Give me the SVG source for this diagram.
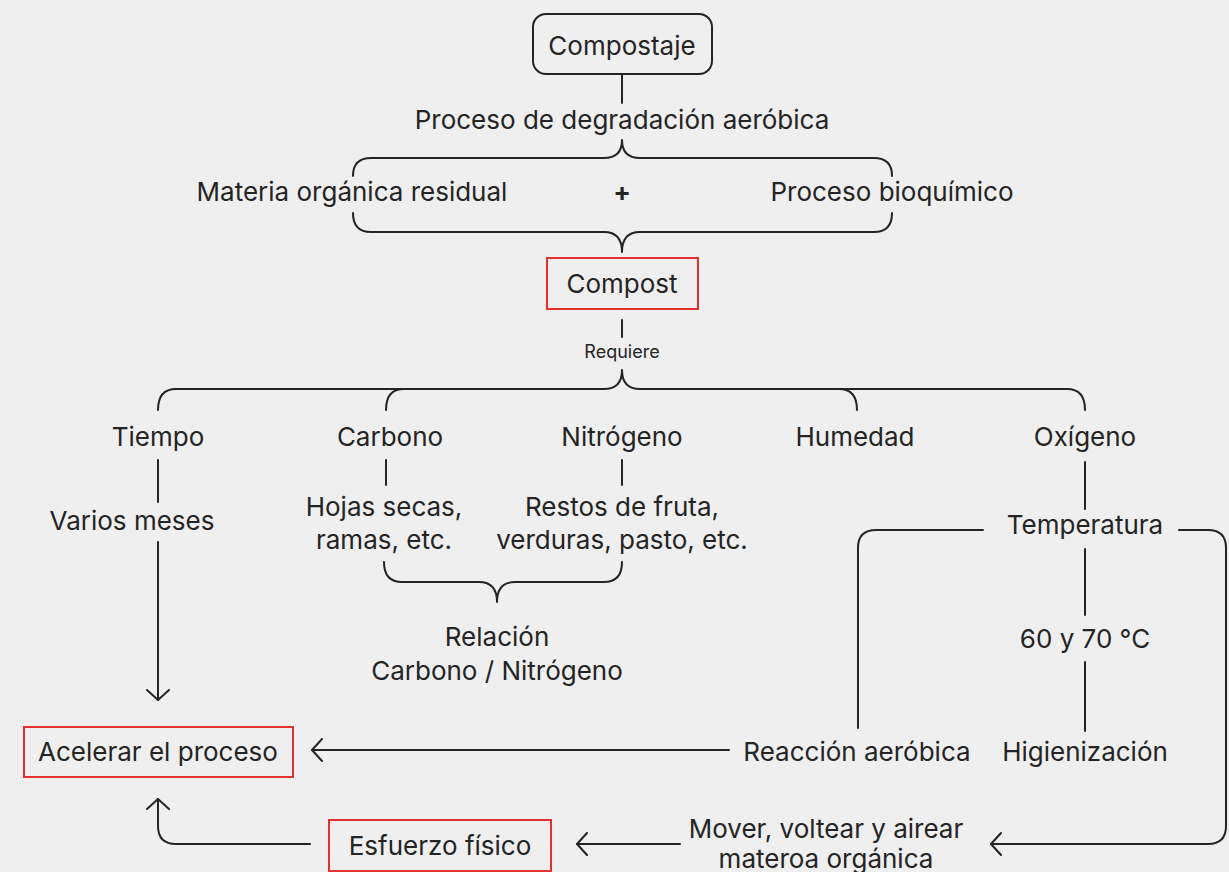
<svg xmlns="http://www.w3.org/2000/svg" width="1229" height="872" viewBox="0 0 1229 872">
  <style>
    .t { font-family: Inter, "Noto Sans", "Liberation Sans", sans-serif; font-size: 26px; fill: #242424; text-anchor: middle; }
    .s { font-size: 18px; }
    .b { font-weight: bold; }
    .ln { fill: none; stroke: #242424; stroke-width: 2; stroke-linecap: round; stroke-linejoin: round; }
    .red { fill: none; stroke: #e3302c; stroke-width: 2; }
    .pill { fill: none; stroke: #242424; stroke-width: 2; }
  </style>
  <defs>
    <marker id="chev" markerUnits="userSpaceOnUse" markerWidth="24" markerHeight="24" viewBox="-12 -12 24 24" refX="0" refY="0" orient="auto">
      <path d="M-10,-11 L0,0 L-10,11" fill="none" stroke="#242424" stroke-width="2" stroke-linecap="round" stroke-linejoin="round"/>
    </marker>
  </defs>

  <rect width="1229" height="872" fill="#efefef"/>

  <!-- connectors -->
  <g id="connectors" class="ln">
    <path d="M622,74 V103"/>
    <path d="M353,176 Q353,158 371,158 H604 Q622,158 622,140 Q622,158 640,158 H874 Q892,158 892,176"/>
    <path d="M353,213 Q353,232 371,232 H604 Q622,232 622,252 Q622,232 640,232 H874 Q892,232 892,213"/>
    <path d="M622,320 V337"/>
    <path d="M158,410 Q158,389 176,389 H604 Q622,389 622,370 Q622,389 640,389 H1067 Q1085,389 1085,410"/>
    <path d="M386,410 Q386,389 404,389"/>
    <path d="M857,410 Q857,389 839,389"/>
    <path d="M158,460 V502"/>
    <path d="M158,542 V700" marker-end="url(#chev)"/>
    <path d="M386,460 V485"/>
    <path d="M622,460 V485"/>
    <path d="M384,562 Q384,582 402,582 H479 Q497,582 497,602 Q497,582 515,582 H604 Q622,582 622,562"/>
    <path d="M1085,462 V509"/>
    <path d="M983,530 H876 Q858,530 858,548 V728"/>
    <path d="M1179,530 H1208 Q1226,530 1226,548 V826 Q1226,844 1208,844 H991" marker-end="url(#chev)"/>
    <path d="M1085,549 V615"/>
    <path d="M1085,662 V731"/>
    <path d="M729,750 H312" marker-end="url(#chev)"/>
    <path d="M680,844 H577" marker-end="url(#chev)"/>
    <path d="M310,844 H176 Q158,844 158,826 V799" marker-end="url(#chev)"/>
  </g>

  <g id="compostaje">
    <rect class="pill" x="533" y="14" width="179" height="60" rx="13"/>
    <text class="t" x="622" y="55">Compostaje</text>
  </g>
  <g id="degradacion"><text class="t" x="622" y="129">Proceso de degradación aeróbica</text></g>
  <g id="materia"><text class="t" x="352" y="201">Materia orgánica residual</text></g>
  <g id="mas"><text class="t b" x="622" y="201">+</text></g>
  <g id="bioquimico"><text class="t" x="892" y="201">Proceso bioquímico</text></g>
  <g id="compost">
    <rect class="red" x="547" y="258" width="151" height="51"/>
    <text class="t" x="622" y="293">Compost</text>
  </g>
  <g id="requiere"><text class="t s" x="622" y="358">Requiere</text></g>
  <g id="tiempo"><text class="t" x="158" y="446">Tiempo</text></g>
  <g id="carbono"><text class="t" x="390" y="446">Carbono</text></g>
  <g id="nitrogeno"><text class="t" x="622" y="446">Nitrógeno</text></g>
  <g id="humedad"><text class="t" x="855" y="446">Humedad</text></g>
  <g id="oxigeno"><text class="t" x="1085" y="446">Oxígeno</text></g>
  <g id="meses"><text class="t" x="132" y="530">Varios meses</text></g>
  <g id="hojas">
    <text class="t" x="384" y="516">Hojas secas,</text>
    <text class="t" x="384" y="549">ramas, etc.</text>
  </g>
  <g id="restos">
    <text class="t" x="622" y="516">Restos de fruta,</text>
    <text class="t" x="622" y="549">verduras, pasto, etc.</text>
  </g>
  <g id="relacion">
    <text class="t" x="497" y="646">Relación</text>
    <text class="t" x="497" y="680">Carbono / Nitrógeno</text>
  </g>
  <g id="temperatura"><text class="t" x="1085" y="534">Temperatura</text></g>
  <g id="grados"><text class="t" x="1085" y="648">60 y 70 °C</text></g>
  <g id="higienizacion"><text class="t" x="1085" y="761">Higienización</text></g>
  <g id="reaccion"><text class="t" x="857" y="761">Reacción aeróbica</text></g>
  <g id="acelerar">
    <rect class="red" x="24" y="727" width="269" height="50"/>
    <text class="t" x="158" y="761">Acelerar el proceso</text>
  </g>
  <g id="esfuerzo">
    <rect class="red" x="329" y="820" width="222" height="51"/>
    <text class="t" x="440" y="855">Esfuerzo físico</text>
  </g>
  <g id="mover">
    <text class="t" x="826" y="838">Mover, voltear y airear</text>
    <text class="t" x="826" y="868">materoa orgánica</text>
  </g>
</svg>
